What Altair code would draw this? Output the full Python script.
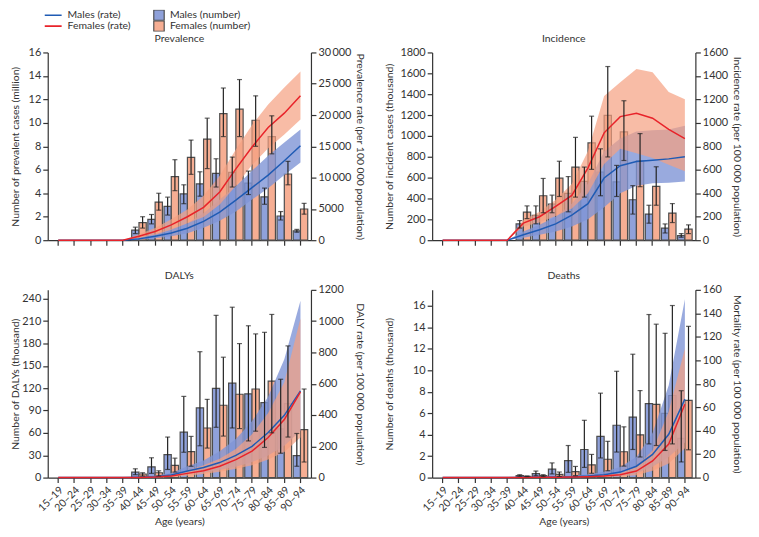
import altair as alt
import pandas as pd

AGES = ["15–19", "20–24", "25–29", "30–34", "35–39", "40–44", "45–49", "50–54",
        "55–59", "60–64", "65–69", "70–74", "75–79", "80–84", "85–89", "90–94"]
BAR_AGES = ["40–44", "45–49", "50–54", "55–59", "60–64", "65–69", "70–74", "75–79",
            "80–84", "85–89", "90–94"]
SEXES = ["Males", "Females"]

# ---------------- Prevalence (number in million, rate per 100 000) ----------------
prev_num_m = [0.86, 1.78, 2.89, 3.94, 4.80, 5.69, 5.78, 4.86, 3.69, 2.06, 0.80]
prev_num_m_lo = [0.56, 1.39, 2.14, 3.11, 3.75, 4.53, 4.53, 3.89, 3.06, 1.72, 0.68]
prev_num_m_hi = [1.11, 2.19, 3.67, 4.72, 5.83, 6.94, 7.08, 5.89, 4.44, 2.44, 0.92]
prev_num_f = [1.50, 3.25, 5.42, 7.05, 8.61, 10.78, 11.17, 10.22, 8.83, 5.64, 2.66]
prev_num_f_lo = [1.03, 2.56, 4.22, 5.61, 6.10, 8.83, 8.83, 8.00, 7.36, 4.72, 2.22]
prev_num_f_hi = [2.00, 4.00, 6.86, 8.53, 10.40, 12.97, 13.69, 12.30, 10.60, 6.72, 3.14]
prev_rate_m = [0, 0, 0, 0, 0, 210, 625, 1150, 1900, 3000, 4500, 6400, 8400, 10400, 12700, 15100]
prev_rate_m_lo = [0, 0, 0, 0, 0, 100, 310, 625, 1100, 2000, 3100, 4600, 6500, 8300, 10400, 12400]
prev_rate_m_hi = [0, 0, 0, 0, 0, 420, 990, 1770, 2700, 4300, 6500, 8600, 11100, 13500, 15600, 17700]
prev_rate_f = [0, 0, 0, 0, 0, 625, 1400, 2450, 3750, 5250, 7700, 11400, 14900, 18000, 20300, 23100]
prev_rate_f_lo = [0, 0, 0, 0, 0, 360, 880, 1670, 2700, 3700, 5700, 8700, 12000, 14700, 16900, 19300]
prev_rate_f_hi = [0, 0, 0, 0, 0, 940, 1930, 3330, 4900, 7100, 10300, 14500, 18400, 21700, 24400, 26950]

# ---------------- Incidence (number in thousand, rate per 100 000) ----------------
inc_num_m = [156, 238, 347, 448, 563, 654, 560, 388, 250, 116, 44]
inc_num_m_lo = [116, 157, 263, 272, 413, 426, 419, 250, 163, 69, 28]
inc_num_m_hi = [188, 329, 432, 610, 701, 876, 717, 523, 335, 156, 63]
inc_num_f = [269, 426, 595, 701, 933, 1196, 1039, 760, 516, 260, 106]
inc_num_f_lo = [207, 263, 419, 413, 679, 798, 764, 513, 335, 169, 63]
inc_num_f_hi = [329, 592, 757, 986, 1189, 1665, 1337, 1022, 704, 351, 147]
inc_rate_m = [0, 0, 0, 0, 0, 47, 89, 139, 214, 311, 530, 635, 670, 682, 693, 712]
inc_rate_m_lo = [0, 0, 0, 0, 0, 20, 47, 75, 117, 178, 280, 400, 465, 485, 490, 500]
inc_rate_m_hi = [0, 0, 0, 0, 0, 75, 131, 200, 311, 480, 755, 866, 927, 936, 944, 975]
inc_rate_f = [0, 0, 0, 0, 0, 145, 200, 289, 381, 617, 915, 1053, 1081, 1040, 944, 866]
inc_rate_f_lo = [0, 0, 0, 0, 0, 117, 150, 206, 270, 400, 650, 780, 740, 700, 642, 587]
inc_rate_f_hi = [0, 0, 0, 0, 0, 172, 242, 345, 478, 760, 1229, 1345, 1460, 1432, 1263, 1201]

# ---------------- DALYs (number in thousand, rate per 100 000) ----------------
daly_num_m = [7.4, 14.4, 30.9, 61.0, 93.6, 119.8, 126.7, 112.4, 100.6, 65.3, 29.6]
daly_num_m_lo = [3.9, 5.7, 10.9, 34.0, 42.7, 67.5, 66.6, 49.2, 40.5, 32.7, 15.2]
daly_num_m_hi = [11.8, 26.6, 54.4, 109.0, 169.0, 217.8, 228.7, 203.8, 195.0, 132.0, 59.2]
daly_num_f = [4.8, 6.5, 16.5, 34.8, 66.6, 97.1, 111.9, 118.9, 129.4, 99.3, 64.5]
daly_num_f_lo = [2.2, 2.2, 7.4, 15.2, 39.6, 55.7, 65.8, 62.3, 60.1, 54.4, 20.9]
daly_num_f_hi = [6.5, 9.1, 26.1, 55.3, 105.0, 161.6, 179.9, 192.9, 219.0, 176.8, 118.9]
daly_rate_m = [0, 0, 0, 0, 0, 2, 6, 17, 42, 65, 96, 142, 200, 288, 398, 554]
daly_rate_m_lo = [0, 0, 0, 0, 0, 1, 2, 6, 23, 31, 48, 69, 100, 142, 204, 298]
daly_rate_m_hi = [0, 0, 0, 0, 0, 4, 12, 30, 73, 110, 169, 246, 360, 517, 756, 1131]
daly_rate_f = [0, 0, 0, 0, 0, 1, 4, 10, 27, 44, 73, 115, 169, 256, 371, 548]
daly_rate_f_lo = [0, 0, 0, 0, 0, 0.5, 1, 4, 12, 23, 38, 56, 79, 115, 163, 256]
daly_rate_f_hi = [0, 0, 0, 0, 0, 2, 8, 20, 45, 79, 121, 183, 277, 413, 610, 1017]

# ---------------- Deaths (number in thousand, rate per 100 000) ----------------
death_num_m = [0.18, 0.37, 0.79, 1.59, 2.62, 3.84, 4.88, 5.64, 6.89, 5.98, 3.66]
death_num_m_lo = [0.12, 0.18, 0.34, 0.49, 0.95, 1.83, 2.38, 2.62, 3.14, 2.53, 1.46]
death_num_m_hi = [0.27, 0.61, 1.37, 2.99, 5.34, 7.87, 9.91, 11.50, 15.20, 13.45, 8.10]
death_num_f = [0.12, 0.18, 0.30, 0.55, 1.19, 1.71, 2.41, 3.99, 6.83, 7.65, 7.20]
death_num_f_lo = [0.09, 0.10, 0.12, 0.18, 0.40, 0.64, 1.07, 1.92, 2.99, 3.14, 2.59]
death_num_f_hi = [0.15, 0.27, 0.52, 1.04, 2.16, 3.38, 4.73, 8.11, 14.30, 16.04, 14.10]
death_rate_m = [0, 0, 0, 0, 0, 0.2, 0.4, 0.6, 0.8, 1.4, 2.5, 4.7, 9.7, 19.7, 36.9, 66.9]
death_rate_m_lo = [0, 0, 0, 0, 0, 0.1, 0.2, 0.3, 0.4, 0.6, 1.0, 1.4, 3.6, 9.2, 17.5, 30.0]
death_rate_m_hi = [0, 0, 0, 0, 0, 0.3, 0.6, 1.0, 1.6, 2.8, 5.0, 9.0, 17.5, 38.0, 78.6, 152.0]
death_rate_f = [0, 0, 0, 0, 0, 0.1, 0.2, 0.3, 0.5, 0.8, 1.4, 2.5, 5.6, 14.2, 28.6, 62.5]
death_rate_f_lo = [0, 0, 0, 0, 0, 0.05, 0.1, 0.15, 0.25, 0.4, 0.6, 1.0, 2.0, 5.8, 12.0, 25.0]
death_rate_f_hi = [0, 0, 0, 0, 0, 0.15, 0.3, 0.5, 0.9, 1.6, 2.5, 3.6, 9.2, 23.0, 56.4, 110.0]

# ---------------- styling ----------------
BLUE_LINE = "#1f5bb4"
RED_LINE = "#e8232a"
BLUE_BAR = "#8fa1da"
RED_BAR = "#f6ae93"
BLUE_BAND = "#7f95d6"
RED_BAND = "#f5a080"
EDGE = "#4d4d4d"
INK = "#333333"
W, H = 265, 189

THIN = "\u2009"
NUM_LABEL = ("datum.value >= 10000 ? replace(format(datum.value, ','), ',', '" + THIN +
             "') : format(datum.value, 'd')")


def bars_frame(m, m_lo, m_hi, f, f_lo, f_hi):
    rows = []
    for sex, v, lo, hi in (("Males", m, m_lo, m_hi), ("Females", f, f_lo, f_hi)):
        for a, vv, l, h in zip(BAR_AGES, v, lo, hi):
            rows.append({"age": a, "sex": sex, "key": sex + " (number)",
                         "value": vv, "lo": l, "hi": h})
    return pd.DataFrame(rows)


def rates_frame(m, m_lo, m_hi, f, f_lo, f_hi):
    rows = []
    for sex, v, lo, hi in (("Males", m, m_lo, m_hi), ("Females", f, f_lo, f_hi)):
        for a, vv, l, h in zip(AGES, v, lo, hi):
            rows.append({"age": a, "sex": sex, "key": sex + " (rate)",
                         "rate": vv, "lo": l, "hi": h})
    return pd.DataFrame(rows)


color_legend = alt.Legend(orient="none", legendX=-4, legendY=-43, title=None,
                          direction="vertical", symbolType="stroke", symbolSize=289,
                          symbolStrokeWidth=1.6, labelFontSize=10.5, labelColor=INK,
                          rowPadding=0, clipHeight=11, labelOffset=5, padding=0)
fill_legend = alt.Legend(orient="none", legendX=106, legendY=-43, title=None,
                         direction="vertical", symbolType="square", symbolSize=110,
                         symbolStrokeColor=EDGE, symbolStrokeWidth=1.2,
                         labelFontSize=10.5, labelColor=INK, rowPadding=0,
                         clipHeight=11, labelOffset=5, padding=0)


def panel(title, bars, rates, ldom, lticks, ltitle, ltx, rdom, rticks, rtitle, rtx, bottom):
    if bottom:
        xaxis = alt.Axis(title="Age (years)", labelAngle=-45, labelFontSize=10.5,
                         titlePadding=3)
    else:
        xaxis = alt.Axis(title=None, labels=False)
    x = alt.X("age:N", scale=alt.Scale(domain=AGES, paddingInner=0.1, paddingOuter=0.2),
              axis=xaxis)
    xo = alt.XOffset("sex:N", scale=alt.Scale(domain=SEXES, paddingInner=0, paddingOuter=0))
    lscale = alt.Scale(domain=ldom, nice=False, zero=True)
    rscale = alt.Scale(domain=rdom, nice=False, zero=True)
    laxis = alt.Axis(values=lticks, title=ltitle, orient="left", titleX=ltx,
                     labelExpr=NUM_LABEL)
    raxis = alt.Axis(values=rticks, title=rtitle, orient="right", titleX=rtx,
                     labelExpr=NUM_LABEL)

    bb = alt.Chart(bars)
    bar = bb.mark_bar(stroke=EDGE, strokeWidth=1.2).encode(
        x=x, xOffset=xo,
        y=alt.Y("value:Q", scale=lscale, axis=laxis),
        fill=alt.Fill("key:N", scale=alt.Scale(domain=["Males (number)", "Females (number)"],
                                              range=[BLUE_BAR, RED_BAR]),
                      legend=fill_legend),
    )
    rule = bb.mark_rule(color="#222222", strokeWidth=1.2).encode(
        x=x, xOffset=xo, y=alt.Y("lo:Q", scale=lscale, axis=None), y2="hi:Q")
    cap_lo = bb.mark_tick(color="#222222", size=5, thickness=1.2).encode(
        x=x, xOffset=xo, y=alt.Y("lo:Q", scale=lscale, axis=None))
    cap_hi = bb.mark_tick(color="#222222", size=5, thickness=1.2).encode(
        x=x, xOffset=xo, y=alt.Y("hi:Q", scale=lscale, axis=None))
    err = alt.layer(rule, cap_lo, cap_hi)

    rb = alt.Chart(rates)
    band_m = rb.transform_filter(alt.datum.sex == "Males").mark_area(
        color=BLUE_BAND, opacity=0.8).encode(
        x=x, y=alt.Y("lo:Q", scale=rscale, axis=raxis), y2="hi:Q")
    band_f = rb.transform_filter(alt.datum.sex == "Females").mark_area(
        color=RED_BAND, opacity=0.7).encode(
        x=x, y=alt.Y("lo:Q", scale=rscale, axis=raxis), y2="hi:Q")
    line = rb.mark_line(strokeWidth=1.5).encode(
        x=x, y=alt.Y("rate:Q", scale=rscale, axis=raxis),
        color=alt.Color("key:N", scale=alt.Scale(domain=["Males (rate)", "Females (rate)"],
                                                range=[BLUE_LINE, RED_LINE]),
                        legend=color_legend),
    )
    rate_layer = alt.layer(band_m, band_f, line)
    return alt.layer(bar, rate_layer, err).resolve_scale(y="independent").properties(
        width=W, height=H, title=title)


p1 = panel("Prevalence",
           bars_frame(prev_num_m, prev_num_m_lo, prev_num_m_hi, prev_num_f, prev_num_f_lo, prev_num_f_hi),
           rates_frame(prev_rate_m, prev_rate_m_lo, prev_rate_m_hi, prev_rate_f, prev_rate_f_lo, prev_rate_f_hi),
           [0, 16], list(range(0, 17, 2)), "Number of prevalent cases (million)", -27,
           [0, 30000], list(range(0, 30001, 5000)), "Prevalence rate (per 100 000 population)", 44,
           False)
p2 = panel("Incidence",
           bars_frame(inc_num_m, inc_num_m_lo, inc_num_m_hi, inc_num_f, inc_num_f_lo, inc_num_f_hi),
           rates_frame(inc_rate_m, inc_rate_m_lo, inc_rate_m_hi, inc_rate_f, inc_rate_f_lo, inc_rate_f_hi),
           [0, 1800], list(range(0, 1801, 200)), "Number of  incident cases (thousand)", -38,
           [0, 1600], list(range(0, 1601, 200)), "Incidence rate (per 100 000 population)", 36,
           False)
p3 = panel("DALYs",
           bars_frame(daly_num_m, daly_num_m_lo, daly_num_m_hi, daly_num_f, daly_num_f_lo, daly_num_f_hi),
           rates_frame(daly_rate_m, daly_rate_m_lo, daly_rate_m_hi, daly_rate_f, daly_rate_f_lo, daly_rate_f_hi),
           [0, 252], list(range(0, 241, 30)), "Number of  DALYs (thousand)", -27,
           [0, 1200], list(range(0, 1201, 200)), "DALY rate (per 100 000 population)", 44,
           True)
p4 = panel("Deaths",
           bars_frame(death_num_m, death_num_m_lo, death_num_m_hi, death_num_f, death_num_f_lo, death_num_f_hi),
           rates_frame(death_rate_m, death_rate_m_lo, death_rate_m_hi, death_rate_f, death_rate_f_lo, death_rate_f_hi),
           [0, 17.5], list(range(0, 17, 2)), "Number of deaths (thousand)", -38,
           [0, 160], list(range(0, 161, 20)), "Mortality rate (per 100 000 population)", 36,
           True)

chart = alt.concat(p1, p2, p3, p4, columns=2, spacing={"row": 25, "column": 19}).resolve_scale(
    color="shared", fill="shared"
).properties(
    padding={"left": 3, "top": 0, "right": 10, "bottom": 0}
).configure(
    font="Lato"
).configure_axis(
    domainColor=INK, tickColor=INK, labelColor=INK, titleColor=INK,
    labelFontSize=11, titleFontSize=10.5, titleFontWeight="normal",
    tickSize=5, grid=False, domainWidth=1.2, tickWidth=1.2, labelPadding=2
).configure_title(
    fontSize=10.5, fontWeight="normal", color=INK, offset=2, frame="group"
).configure_view(
    stroke=None
)

chart.save("out.html", embed_options={"renderer": "svg", "actions": False})
